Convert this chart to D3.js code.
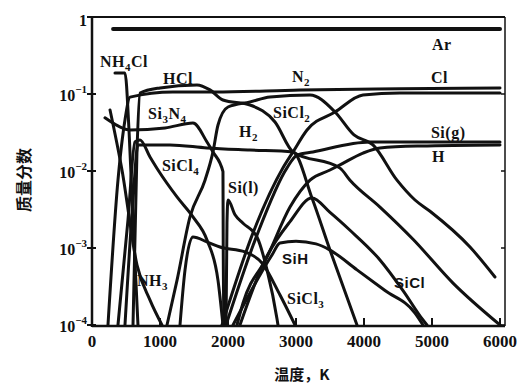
<!DOCTYPE html>
<html>
<head>
<meta charset="utf-8">
<script src="https://cdn.jsdelivr.net/npm/d3@7"></script>
<style>
  body { margin: 0; background: #fff; }
  text { fill: #111; }
</style>
</head>
<body>
<svg id="chart" width="519" height="383"></svg>
<script>
// tick values
const xTicks = [0, 1000, 2000, 3000, 4000, 5000, 6000];
const yTicks = [1e-4, 1e-3, 1e-2, 1e-1, 1];
const yTickExp = ['4', '3', '2', '1', ''];

// mass fraction vs temperature [K, fraction]
const ar = [[310, 0.70], [6000, 0.70]];
const n2 = [[235, 1e-4], [382, 0.0076], [485, 0.046], [559, 0.091], [1191, 0.106], [1809, 0.106], [3059, 0.113], [4529, 0.117], [6000, 0.12]];
const hcl = [[603, 1e-4], [662, 0.0187], [706, 0.103], [1000, 0.12], [1544, 0.131], [1735, 0.113], [1926, 0.0836], [2324, 0.072], [2691, 0.0433], [2956, 0.0177], [3647, 0.0109], [3794, 0.0076], [4235, 0.0034], [4721, 0.0013], [5309, 0.00035], [6000, 1e-4]];
const cl = [[1912, 1e-4], [2368, 0.00157], [2809, 0.011], [2956, 0.0177], [3162, 0.0341], [3574, 0.0584], [3985, 0.097], [4529, 0.103], [6000, 0.103]];
const siG = [[1971, 1e-4], [2426, 0.00147], [2868, 0.011], [3015, 0.0161], [3250, 0.0177], [4088, 0.0238], [6000, 0.0238]];
const hAtom = [[2132, 1e-4], [2221, 0.000193], [2574, 0.00076], [2912, 0.0034], [3206, 0.0076], [3500, 0.0103], [3647, 0.012], [3985, 0.0171], [4235, 0.0199], [4824, 0.0211], [6000, 0.0218]];
const h2 = [[485, 1e-4], [603, 0.0042], [676, 0.0218], [1147, 0.0218], [1691, 0.0199], [2324, 0.0187], [2956, 0.0177], [3235, 0.00446], [3500, 0.00094], [3897, 1e-4]];
const sicl2 = [[1103, 1e-4], [1250, 0.00038], [1441, 0.00253], [1662, 0.0076], [1779, 0.0177], [1853, 0.0396], [2000, 0.0678], [2324, 0.079], [2618, 0.0914], [3206, 0.097], [3574, 0.0584], [3853, 0.0294], [4132, 0.0218], [4485, 0.0076], [4750, 0.0042], [4971, 0.003], [5559, 0.00103], [5926, 0.00042]];
const si3n4 = [[191, 0.049], [382, 0.0385], [559, 0.0341], [1074, 0.0362], [1485, 0.042], [1691, 0.0238], [1779, 0.0177], [1926, 0.0098], [1930, 0.00094], [1941, 1e-4]];
const sicl4 = [[382, 1e-4], [529, 0.0023], [632, 0.0238], [706, 0.0253], [853, 0.0152], [971, 0.0103], [1250, 0.0046], [1485, 0.00253], [1691, 0.00127], [1853, 0.00038], [1926, 1e-4]];
const nh4cl = [[338, 0.187], [485, 0.187], [544, 0.0341], [603, 0.0023], [676, 1e-4]];
const nh3 = [[265, 0.062], [441, 0.0103], [662, 0.0006], [853, 0.00021], [1029, 1e-4]];
const siL = [[1971, 1e-4], [1985, 0.0021], [2000, 0.0042], [2103, 0.0027], [2221, 0.0021], [2426, 0.00139], [2574, 0.00052], [2721, 0.00012], [2735, 1e-4]];
const sicl3 = [[1294, 1e-4], [1368, 0.00052], [1485, 0.00139], [1691, 0.0012], [1882, 0.00103], [2250, 0.00089], [2500, 0.00064], [2765, 0.000245], [2985, 1e-4]];
const sih = [[2074, 1e-4], [2647, 0.00081], [2765, 0.00116], [3000, 0.00122], [3294, 0.00113], [3500, 0.00094], [3897, 0.00052], [4309, 0.00028], [4750, 0.000143], [4868, 1e-4]];
const sicl = [[2176, 1e-4], [2544, 0.0007], [2912, 0.0022], [3235, 0.00446], [3500, 0.0029], [3794, 0.0017], [4235, 0.0007], [4574, 0.00028], [4868, 0.000116], [4926, 1e-4]];

const curves = [ar, n2, hcl, cl, siG, hAtom, h2, sicl2, si3n4, sicl4, nh4cl, nh3, siL, sicl3, sih, sicl];

// species labels: text ("_" marks a subscript digit), position in data units
const labelText = ['Ar', 'NH_4Cl', 'HCl', 'N_2', 'Cl', 'Si_3N_4', 'H_2', 'SiCl_2', 'Si(g)', 'H', 'SiCl_4', 'Si(l)', 'NH_3', 'SiH', 'SiCl_3', 'SiCl'];
const labelT = [5000, 118, 1044, 2941, 4985, 824, 2162, 2662, 4985, 5000, 1029, 2000, 662, 2794, 2868, 4441];
const labelV = [0.373, 0.224, 0.135, 0.143, 0.139, 0.0474, 0.0276, 0.0488, 0.0268, 0.0131, 0.01, 0.00518, 0.00032, 0.00062, 0.000187, 0.0003];

const svg = d3.select('#chart');
const pLeft = 92, pRight = 505, pTop = 17, pBottom = 326;

const x = d3.scaleLinear().domain([0, 6000]).range([pLeft, 500]);
const y = d3.scaleLog().domain([1e-4, 1]).range([325, pTop]);

svg.append('defs').append('clipPath').attr('id', 'plot')
  .append('rect').attr('x', pLeft).attr('y', pTop).attr('width', pRight - pLeft).attr('height', pBottom - pTop);

// curves
const line = d3.line()
  .x(d => x(d[0]))
  .y(d => y(d[1]))
  .curve(d3.curveMonotoneX);

svg.append('g').attr('clip-path', 'url(#plot)')
  .selectAll('path')
  .data(curves)
  .join('path')
  .attr('d', line)
  .attr('fill', 'none')
  .attr('stroke', '#111')
  .attr('stroke-width', (d, i) => i === 0 ? 4 : 3)
  .attr('stroke-linejoin', 'round')
  .attr('stroke-linecap', 'round');

// frame
const frame = svg.append('g').attr('stroke', '#111').attr('fill', 'none');
frame.append('line').attr('x1', pLeft).attr('x2', pLeft).attr('y1', pTop - 1).attr('y2', pBottom + 1).attr('stroke-width', 2.5);
frame.append('line').attr('x1', pLeft).attr('x2', pRight).attr('y1', pBottom).attr('y2', pBottom).attr('stroke-width', 2.5);
frame.append('line').attr('x1', pLeft).attr('x2', pRight).attr('y1', pTop).attr('y2', pTop).attr('stroke-width', 2);
frame.append('line').attr('x1', pRight).attr('x2', pRight).attr('y1', pTop).attr('y2', pBottom).attr('stroke-width', 1.5);

// y ticks + labels
frame.selectAll('.yt').data(yTicks).join('line')
  .attr('x1', pLeft - 5).attr('x2', pLeft + 4)
  .attr('y1', d => y(d)).attr('y2', d => y(d))
  .attr('stroke-width', 2);
frame.selectAll('.yr').data(yTicks.slice(0, 4)).join('line')
  .attr('x1', pRight - 4).attr('x2', pRight)
  .attr('y1', d => y(d)).attr('y2', d => y(d))
  .attr('stroke-width', 1.5);

const yl = svg.append('g')
  .attr('font-family', '"Liberation Serif", serif')
  .attr('font-weight', 'bold')
  .attr('text-anchor', 'end');
yTicks.forEach((v, i) => {
  const t = yl.append('text').attr('x', pLeft - 5).attr('font-size', 16);
  if (v === 1) {
    t.attr('y', y(v) + 9).text('1');
  } else {
    t.attr('y', y(v) + 7).text('10');
    t.append('tspan').attr('font-size', 11).attr('dy', -8).text('\u2212' + yTickExp[i]);
  }
});

// x ticks + labels
frame.selectAll('.xt').data(xTicks).join('line')
  .attr('x1', d => x(d)).attr('x2', d => x(d))
  .attr('y1', pBottom).attr('y2', pBottom - 8)
  .attr('stroke-width', 2);

svg.append('g')
  .attr('font-family', '"Liberation Serif", serif')
  .attr('font-weight', 'bold')
  .attr('font-size', 17)
  .attr('text-anchor', 'middle')
  .selectAll('text')
  .data(xTicks)
  .join('text')
  .attr('x', d => x(d))
  .attr('y', 347)
  .text(d => d);

// species labels
const lab = svg.append('g')
  .attr('font-family', '"Liberation Serif", serif')
  .attr('font-weight', 'bold')
  .attr('font-size', 16);
labelText.forEach((s, i) => {
  const t = lab.append('text')
    .attr('x', x(labelT[i]))
    .attr('y', y(labelV[i]))
    .attr('letter-spacing', 0.5);
  if (s === 'SiH' || s === 'SiCl') t.attr('font-family', '"Liberation Sans", sans-serif').attr('font-size', 15);
  let shift = 0;
  s.split(/(_\d)/).filter(p => p).forEach(p => {
    if (p[0] === '_') {
      t.append('tspan').attr('font-size', 11).attr('dy', 4 - shift).text(p[1]);
      shift = 4;
    } else {
      t.append('tspan').attr('dy', -shift).text(p);
      shift = 0;
    }
  });
});

// axis titles
svg.append('text')
  .attr('transform', 'translate(30,180) rotate(-90)')
  .attr('text-anchor', 'middle')
  .attr('font-family', '"Noto Sans CJK SC", sans-serif')
  .attr('font-weight', 'bold')
  .attr('font-size', 16)
  .text('质量分数');

svg.append('text')
  .attr('x', 302)
  .attr('y', 380)
  .attr('text-anchor', 'middle')
  .attr('font-family', '"Noto Sans CJK SC", sans-serif')
  .attr('font-weight', 'bold')
  .attr('font-size', 15)
  .text('温度，K');
</script>
</body>
</html>
